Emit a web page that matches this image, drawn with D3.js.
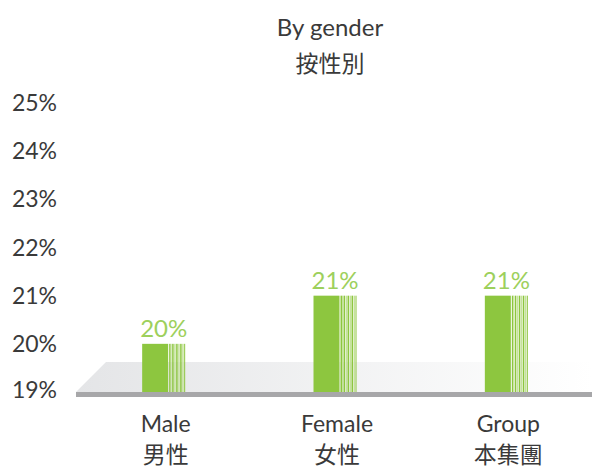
<!DOCTYPE html>
<html>
<head>
<meta charset="utf-8">
<script src="https://cdn.jsdelivr.net/npm/d3@7"></script>
<style>
  body { margin: 0; background: #fff; }
  text { font-family: Lato, "Noto Sans CJK TC", sans-serif; font-weight: 400; }
</style>
</head>
<body>
<div id="chart"></div>
<script>
// DATA
var categories = ['Male', 'Female', 'Group'];
var categoriesZh = ['男性', '女性', '本集團'];
var values = [20, 21, 21];
var valueLabels = ['20%', '21%', '21%'];
var yTicks = [19, 20, 21, 22, 23, 24, 25];

// SETTINGS
var width = 592, height = 467;
var base = 392;
var barWidth = 43;
var colors = { bar: '#8dc63f', light: '#c5e29c', label: '#9dd05c', text: '#3a3a3a', axis: '#a7a7a9' };

// SCALES
var yScale = d3.scaleLinear()
   .domain([19, 25])
   .range([base, 103])

var xScale = d3.scaleBand()
   .domain(categories)
   .range([78, 592])
   .padding(0)

// CANVAS
var svg = d3.select('#chart').append('svg')
   .attr('width', width)
   .attr('height', height)

// FLOOR GRADIENT
var grad = svg.append('defs').append('linearGradient')
   .attr('id', 'floor')
   .attr('x1', '0%').attr('x2', '100%')
grad.append('stop').attr('offset', '0%').attr('stop-color', '#e4e5e7')
grad.append('stop').attr('offset', '100%').attr('stop-color', '#ffffff')

var floorTop = base - 30;
svg.append('path')
   .attr('fill', 'url(#floor)')
   .attr('d', 'M76,' + base + 'L106,' + floorTop + 'L592,' + floorTop + 'L592,' + base + 'Z')

// TITLE
svg.append('text')
   .attr('x', 330).attr('y', 36)
   .attr('text-anchor', 'middle')
   .attr('font-size', 24)
   .attr('fill', colors.text)
   .text('By gender')
svg.append('text')
   .attr('x', 330).attr('y', 72)
   .attr('text-anchor', 'middle')
   .attr('font-size', 23)
   .attr('fill', colors.text)
   .text('按性別')

// Y AXIS LABELS
svg.selectAll('.ytick')
   .data(yTicks)
   .enter().append('text')
      .attr('class', 'ytick')
      .attr('x', 57)
      .attr('y', (d) => { return yScale(d) + (d === 19 ? 6 : 8) })
      .attr('text-anchor', 'end')
      .attr('font-size', 23)
      .attr('fill', colors.text)
      .text((d) => { return d + '%' })

// BARS (SOLID PART + STRIPES)
var stripes = [
   { x: 27, w: 1.5, c: colors.bar },
   { x: 28.5, w: 1, c: colors.light },
   { x: 30, w: 1.5, c: colors.bar },
   { x: 32, w: 1.5, c: colors.light },
   { x: 34, w: 1.5, c: colors.bar },
   { x: 36, w: 1.5, c: colors.light },
   { x: 38, w: 1.5, c: colors.bar },
   { x: 40, w: 1.5, c: colors.light },
   { x: 42, w: 1, c: colors.bar }
];

var bars = svg.selectAll('.bar')
   .data(values)
   .enter().append('g')
      .attr('class', 'bar')
      .attr('transform', (d, i) => { return 'translate(' + (xScale(categories[i]) + xScale.bandwidth() / 2 - barWidth / 2) + ',0)' })

bars.append('rect')
   .attr('x', 0)
   .attr('y', (d) => { return yScale(d) })
   .attr('width', 26)
   .attr('height', (d) => { return base - yScale(d) })
   .attr('fill', colors.bar)

bars.each(function(d) {
   d3.select(this).selectAll('.stripe')
      .data(stripes)
      .enter().append('rect')
         .attr('x', (s) => { return s.x })
         .attr('y', yScale(d))
         .attr('width', (s) => { return s.w })
         .attr('height', base - yScale(d))
         .attr('fill', (s) => { return s.c })
})

// VALUE LABELS
bars.append('text')
   .attr('x', barWidth / 2)
   .attr('y', (d) => { return yScale(d) - 7 })
   .attr('text-anchor', 'middle')
   .attr('font-size', 24)
   .attr('fill', colors.label)
   .text((d, i) => { return valueLabels[i] })

// BASELINE
svg.append('rect')
   .attr('x', 76).attr('y', base)
   .attr('width', width - 76).attr('height', 5)
   .attr('fill', colors.axis)

// CATEGORY LABELS
var cats = svg.selectAll('.cat')
   .data(categories)
   .enter().append('g')
      .attr('class', 'cat')
      .attr('transform', (d) => { return 'translate(' + (xScale(d) + xScale.bandwidth() / 2 + 2) + ',0)' })

cats.append('text')
   .attr('y', 432)
   .attr('text-anchor', 'middle')
   .attr('font-size', 23)
   .attr('fill', colors.text)
   .text((d) => { return d })

cats.append('text')
   .attr('y', 463)
   .attr('text-anchor', 'middle')
   .attr('font-size', 23)
   .attr('fill', colors.text)
   .text((d, i) => { return categoriesZh[i] })
</script>
</body>
</html>
